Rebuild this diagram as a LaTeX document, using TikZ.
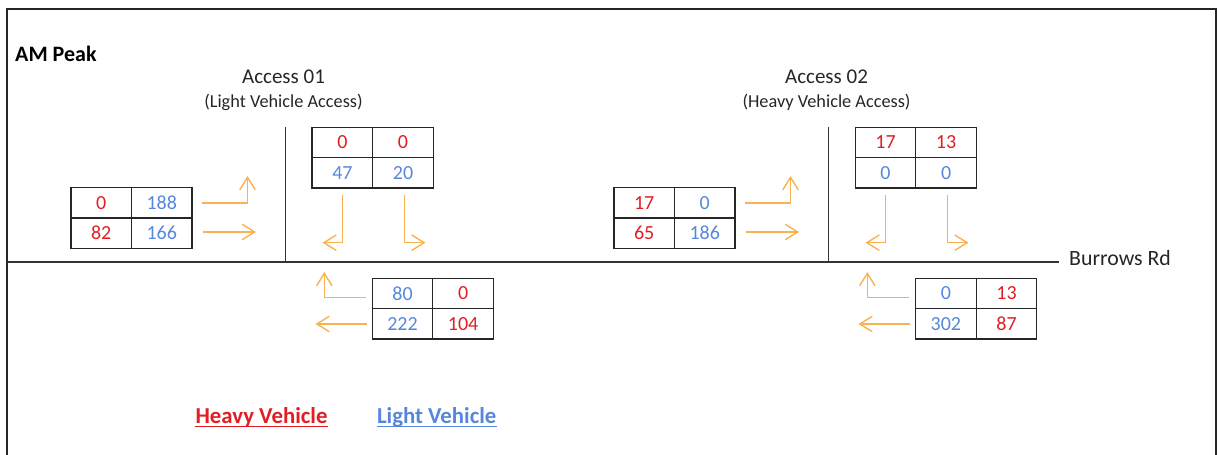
\documentclass[tikz,border=0pt]{standalone}
\usepackage{fontspec}
\setmainfont{Carlito}
\usepackage{tikz}
\usetikzlibrary{arrows.meta}
\definecolor{heavy-red}{RGB}{224,30,36}
\definecolor{light-blue}{RGB}{86,135,220}
\definecolor{flow-orange}{RGB}{249,178,81}
\tikzset{
    count-cell/.style = {draw=black!85, line width=1.3pt, rectangle, minimum width=60.6pt, minimum height=30.4pt, inner sep=0pt, outer sep=0pt, font=\fontsize{20}{21}\selectfont},
    heavy-cell/.style = {count-cell, text=heavy-red},
    light-cell/.style = {count-cell, text=light-blue},
    flow-arrow/.style = {draw=flow-orange, line width=1.4pt, -{Straight Barb[length=12.5pt,width=15.5pt]}},
    road-line/.style = {draw=black!80, line width=1.6pt},
    access-title/.style = {anchor=base, inner sep=0pt, text=black!85, font=\fontsize{21}{23}\selectfont},
    access-note/.style = {anchor=base, inner sep=0pt, text=black!85, font=\fontsize{18.3}{20}\selectfont},
    legend-text/.style = {anchor=base, inner sep=0pt, font=\fontsize{22.8}{24}\bfseries},
}
\begin{document}
\begin{tikzpicture}[x=1pt, y=-1pt]
\useasboundingbox (0,0) rectangle (1218,455);
% frame and roads
\draw[black!85, line width=2pt] (6.7,470) -- (6.7,8.5) -- (1216,8.5) -- (1216,470);
\draw[road-line] (7,262) -- (1059,262);
\draw[road-line] (285.5,127) -- (285.5,262);
\draw[road-line] (828.5,127) -- (828.5,262);

\node[anchor=base west, inner sep=0pt, font=\fontsize{22}{24}\bfseries] (peak) at (15,61.5) {AM Peak};
\node[access-title] (acc1) at (283.5,83.3) {Access 01};
\node[access-note] (acc1-note) at (283.5,107) {(Light Vehicle Access)};
\node[access-title] (acc2) at (826.5,83.3) {Access 02};
\node[access-note] (acc2-note) at (826.5,107) {(Heavy Vehicle Access)};
\node[access-title, font=\fontsize{21.8}{23}\selectfont, anchor=base west] (road) at (1069,265.7) {Burrows Rd};

% count tables: name / centre / four cells (value, kind)
\foreach \tab/\cx/\cy/\va/\ka/\vb/\kb/\vc/\kc/\vd/\kd in {
    a1w/131.5/218/0/heavy/188/light/82/heavy/166/light,
    a1n/372.7/157.7/0/heavy/0/heavy/47/light/20/light,
    a1e/432.8/308.7/80/light/0/heavy/222/light/104/heavy,
    a2w/674.5/218/17/heavy/0/light/65/heavy/186/light,
    a2n/915.8/157.7/17/heavy/13/heavy/0/light/0/light,
    a2e/976.2/308.7/0/light/13/heavy/302/light/87/heavy}{
    \node[\ka-cell] (\tab-11) at (\cx-30.3,\cy-15.2) {\va};
    \node[\kb-cell] (\tab-12) at (\cx+30.3,\cy-15.2) {\vb};
    \node[\kc-cell] (\tab-21) at (\cx-30.3,\cy+15.2) {\vc};
    \node[\kd-cell] (\tab-22) at (\cx+30.3,\cy+15.2) {\vd};
}

% turning movements
\foreach \acc/\dx in {1/0, 2/543}{
    \begin{scope}[xshift=\dx]
        \coordinate (a\acc-wl-s) at (202,203);   \coordinate (a\acc-wl-e) at (247.5,176);
        \coordinate (a\acc-wt-s) at (203,232);   \coordinate (a\acc-wt-e) at (256,232);
        \coordinate (a\acc-nr-s) at (342.7,195); \coordinate (a\acc-nr-e) at (322.5,242.7);
        \coordinate (a\acc-nl-s) at (404.3,195); \coordinate (a\acc-nl-e) at (425.5,242.7);
        \coordinate (a\acc-er-s) at (366,297.5); \coordinate (a\acc-er-e) at (324.3,272);
        \coordinate (a\acc-et-s) at (367,324);   \coordinate (a\acc-et-e) at (315.5,324);
        \draw[flow-arrow] (a\acc-wl-s) -| (a\acc-wl-e);
        \draw[flow-arrow] (a\acc-wt-s) -- (a\acc-wt-e);
        \draw[flow-arrow] (a\acc-nr-s) |- (a\acc-nr-e);
        \draw[flow-arrow] (a\acc-nl-s) |- (a\acc-nl-e);
        \draw[flow-arrow] (a\acc-er-s) -| (a\acc-er-e);
        \draw[flow-arrow] (a\acc-et-s) -- (a\acc-et-e);
    \end{scope}
}

% legend
\node[legend-text, text=heavy-red] (heavy) at (261.5,423.3) {Heavy Vehicle};
\node[legend-text, text=light-blue] (light) at (436.7,423.3) {Light Vehicle};
\draw[heavy-red, line width=1.5pt] ([yshift=-3.4pt]heavy.base west) -- ([yshift=-3.4pt]heavy.base east);
\draw[light-blue, line width=1.5pt] ([yshift=-3.4pt]light.base west) -- ([yshift=-3.4pt]light.base east);
\end{tikzpicture}
\end{document}
